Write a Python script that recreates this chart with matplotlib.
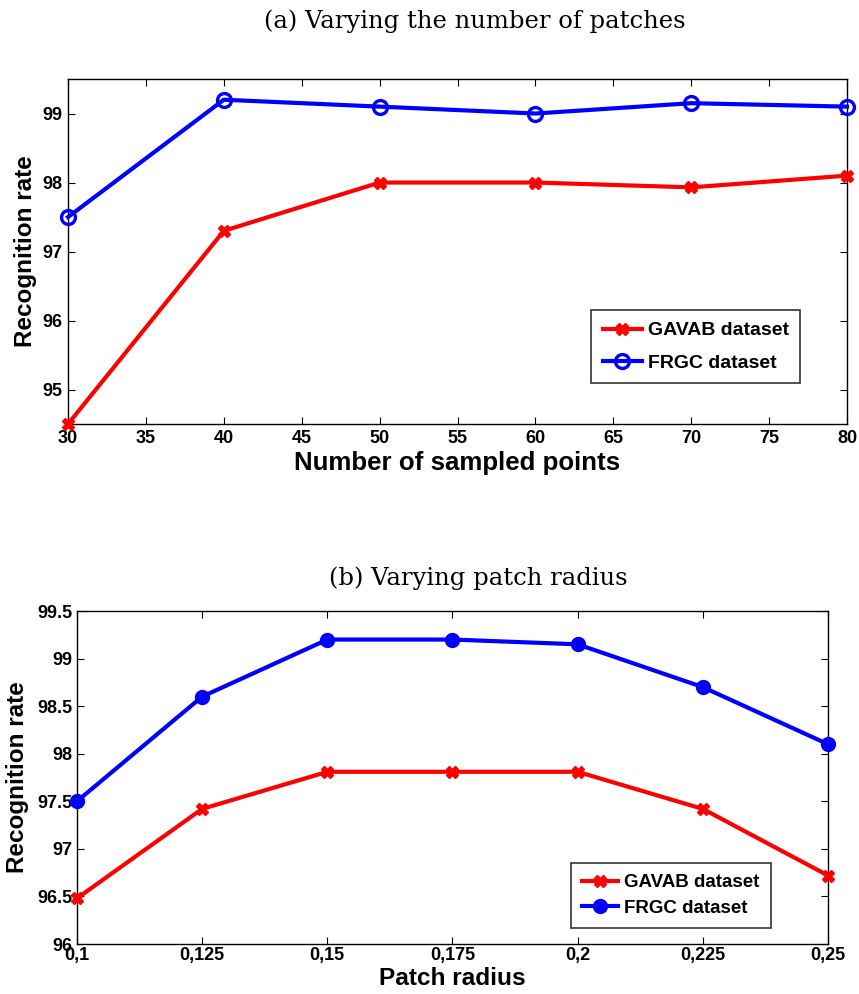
import numpy as np
import matplotlib.pyplot as plt

# data
pts = [30, 40, 50, 60, 70, 80]
gavab_pts = [94.5, 97.3, 98.0, 98.0, 97.93, 98.1]
frgc_pts = [97.5, 99.2, 99.1, 99.0, 99.15, 99.1]

radius = [0.1, 0.125, 0.15, 0.175, 0.2, 0.225, 0.25]
radius_labels = ["0,1", "0,125", "0,15", "0,175", "0,2", "0,225", "0,25"]
gavab_rad = [96.48, 97.42, 97.81, 97.81, 97.81, 97.42, 96.72]
frgc_rad = [97.5, 98.6, 99.2, 99.2, 99.15, 98.7, 98.1]

fig = plt.figure(figsize=(8.59, 9.94), dpi=100)


def style(ax, xpad=3, ypad=3):
    ax.tick_params(direction="in", top=True, right=True, length=5, width=0.8)
    ax.tick_params(axis="x", pad=xpad)
    ax.tick_params(axis="y", pad=ypad)
    for lab in ax.get_xticklabels() + ax.get_yticklabels():
        lab.set_fontfamily("Liberation Sans")
        lab.set_fontweight("bold")
        lab.set_fontsize(13)
    for s in ax.spines.values():
        s.set_linewidth(1.0)


# (a)
ax1 = fig.add_axes([0.0792, 0.5734, 0.9069, 0.3471])
ax1.plot(pts, gavab_pts, color="red", lw=3, marker="X", ms=8, label="GAVAB dataset",
         clip_on=False, zorder=3)
ax1.plot(pts, frgc_pts, color="blue", lw=3, marker="o", ms=10, mfc="none", mew=2.4,
         label="FRGC dataset", clip_on=False, zorder=3)
ax1.set_xlim(30, 80)
ax1.set_ylim(94.5, 99.5)
ax1.set_xticks(np.arange(30, 81, 5))
ax1.set_yticks([95, 96, 97, 98, 99])
style(ax1, xpad=4, ypad=4)
ax1.set_xlabel("Number of sampled points", fontsize=18.6, fontweight="bold",
               family="Liberation Sans", labelpad=3)
ax1.set_ylabel("Recognition rate", fontsize=17.5, fontweight="bold",
               family="Liberation Sans", labelpad=4)
leg = ax1.legend(loc="lower right", bbox_to_anchor=(0.94, 0.118), fancybox=False,
                 edgecolor="black", handlelength=2.0, borderpad=0.6, labelspacing=0.75,
                 handletextpad=0.3, borderaxespad=0,
                 prop={"family": "Liberation Sans", "weight": "bold", "size": 14})
leg.get_frame().set_linewidth(1.2)

# (b)
ax2 = fig.add_axes([0.0896, 0.0503, 0.8743, 0.335])
ax2.plot(radius, gavab_rad, color="red", lw=3, marker="X", ms=8, label="GAVAB dataset",
         clip_on=False, zorder=3)
ax2.plot(radius, frgc_rad, color="blue", lw=3, marker="o", ms=10, label="FRGC dataset",
         clip_on=False, zorder=3)
ax2.set_xlim(0.1, 0.25)
ax2.set_ylim(96, 99.5)
ax2.set_xticks(radius)
ax2.set_xticklabels(radius_labels)
ax2.set_yticks([96, 96.5, 97, 97.5, 98, 98.5, 99, 99.5])
ax2.set_yticklabels(["96", "96.5", "97", "97.5", "98", "98.5", "99", "99.5"])
style(ax2, xpad=2, ypad=3)
ax2.set_xlabel("Patch radius", fontsize=17.6, fontweight="bold",
               family="Liberation Sans", labelpad=2)
ax2.set_ylabel("Recognition rate", fontsize=17.5, fontweight="bold",
               family="Liberation Sans", labelpad=6)
leg2 = ax2.legend(loc="lower right", bbox_to_anchor=(0.924, 0.048), fancybox=False,
                  edgecolor="black", handlelength=1.9, borderpad=0.6, labelspacing=0.45,
                  handletextpad=0.35, borderaxespad=0,
                  prop={"family": "Liberation Sans", "weight": "bold", "size": 13.5})
leg2.get_frame().set_linewidth(1.2)

# panel captions
fig.text(0.553, 0.979, "(a) Varying the number of patches", fontsize=17.5,
         family="DejaVu Serif", ha="center", va="center")
fig.text(0.557, 0.4185, "(b) Varying patch radius", fontsize=17.5,
         family="DejaVu Serif", ha="center", va="center")

fig.savefig("out.png", dpi=100)
